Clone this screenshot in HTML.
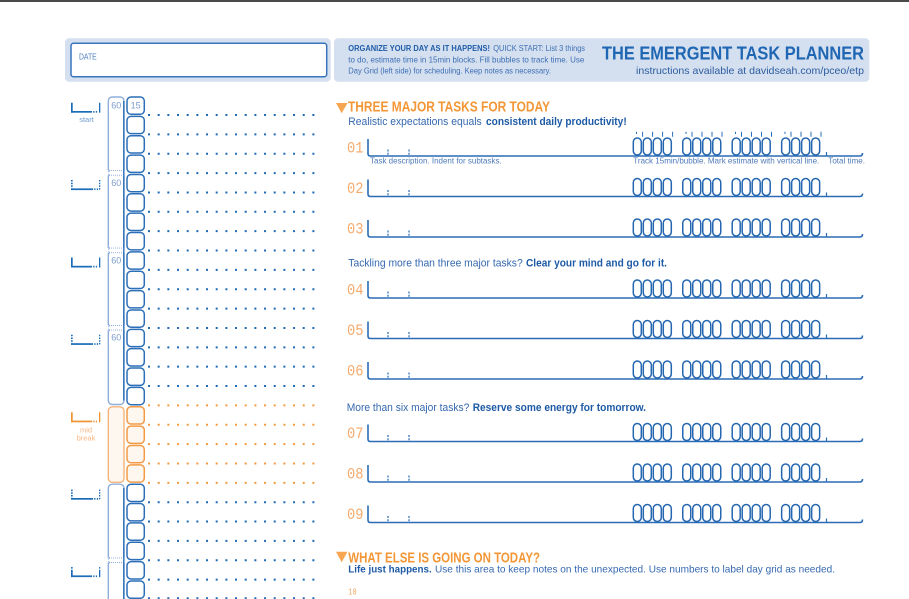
<!DOCTYPE html>
<html><head><meta charset="utf-8"><style>
html,body{margin:0;padding:0;background:#fff;width:909px;height:599px;overflow:hidden}
svg{display:block}
text{font-family:"Liberation Sans",sans-serif}
.mono{font-family:"Liberation Mono","DejaVu Sans Mono",monospace}
</style></head><body>
<svg width="909" height="599" viewBox="0 0 909 599" xmlns="http://www.w3.org/2000/svg">
<defs>
  <rect id="bb" x="127" y="0" width="17.3" height="17.3" rx="4"/>
  <g id="c4">
    <rect x="633.3" y="-18" width="8" height="17" rx="4"/>
    <rect x="643.3" y="-18" width="8" height="17" rx="4"/>
    <rect x="653.3" y="-18" width="8" height="17" rx="4"/>
    <rect x="663.3" y="-18" width="8" height="17" rx="4"/>
  </g>
  <g id="row">
    <path d="M368,-17 V-2.5 Q368,0 370.5,0 H860 Q862.5,0 862.5,-3" fill="none" stroke="#2a6cb6" stroke-width="1.6"/>
    <path d="M826.5,0 V-4" fill="none" stroke="#2a6cb6" stroke-width="1.2"/>
    <path d="M388,-6.5 V-1 M409,-6.5 V-1" fill="none" stroke="#2a6cb6" stroke-width="1.2" stroke-dasharray="2 1.2"/>
    <g fill="#fff" stroke="#2566b0" stroke-width="1.5">
      <use href="#c4"/>
      <use href="#c4" x="49.45"/>
      <use href="#c4" x="98.9"/>
      <use href="#c4" x="148.35"/>
    </g>
  </g>
</defs>

<!-- top bar -->
<rect x="0" y="0" width="909" height="2" fill="#4a4a4a"/>

<!-- header panels -->
<rect x="65" y="38.3" width="265.7" height="43.4" rx="4" fill="#d4dff0"/>
<rect x="71" y="43.3" width="255.7" height="33.4" rx="2.5" fill="#fff" stroke="#3a74bd" stroke-width="1.5"/>
<text x="79" y="59.3" font-size="8.5" fill="#4a7cc0" textLength="17.7" lengthAdjust="spacingAndGlyphs">DATE</text>
<rect x="334" y="38.3" width="535.3" height="43.4" rx="4" fill="#d4dff0"/>
<text x="348.3" y="51" font-size="8" font-weight="bold" fill="#1f5ca8" textLength="141.7" lengthAdjust="spacingAndGlyphs">ORGANIZE YOUR DAY AS IT HAPPENS!</text>
<text x="493.3" y="51" font-size="8" fill="#3d6fb3" textLength="91.7" lengthAdjust="spacingAndGlyphs">QUICK START: List 3 things</text>
<text x="348.3" y="62.3" font-size="8" fill="#3d6fb3" textLength="236" lengthAdjust="spacingAndGlyphs">to do, estimate time in 15min blocks. Fill bubbles to track time. Use</text>
<text x="348.3" y="73.5" font-size="8" fill="#3d6fb3" textLength="202.7" lengthAdjust="spacingAndGlyphs">Day Grid (left side) for scheduling. Keep notes as necessary.</text>
<text x="602" y="59.5" font-size="18.5" font-weight="bold" fill="#1f66b3" textLength="262" lengthAdjust="spacingAndGlyphs">THE EMERGENT TASK PLANNER</text>
<text x="636" y="74" font-size="10.5" fill="#2c5d9f" textLength="228" lengthAdjust="spacingAndGlyphs">instructions available at davidseah.com/pceo/etp</text>

<!-- LEFT COLUMN: hour column -->
<rect x="108.3" y="97" width="15.7" height="307.5" rx="4" fill="#fff" stroke="#8eaedb" stroke-width="1.4"/>
<rect x="108.3" y="406.8" width="15.7" height="75.5" rx="4" fill="#fef7ef" stroke="#f6b47a" stroke-width="1.4"/>
<rect x="108.3" y="484.2" width="15.7" height="130" rx="4" fill="#fff" stroke="#8eaedb" stroke-width="1.4"/>
<!-- separators -->
<g>
  <rect x="107" y="170.4" width="18" height="5" fill="#fff"/>
  <rect x="107" y="247.9" width="18" height="5" fill="#fff"/>
  <rect x="107" y="325.3" width="18" height="5" fill="#fff"/>
  <rect x="107" y="557.7" width="18" height="5" fill="#fff"/>
</g>
<g stroke="#8aaad6" stroke-width="0.9" stroke-dasharray="1 1" fill="none">
  <path d="M109,170.6H123 M109,175.2H123"/>
  <path d="M109,248.1H123 M109,252.7H123"/>
  <path d="M109,325.5H123 M109,330.1H123"/>
  <path d="M109,557.9H123 M109,562.5H123"/>
</g>
<g stroke="#8eaedb" stroke-width="1.2" fill="none">
  <path d="M108.3,169.5 q2,1.2 0,2.5 M108.3,174 q2,1.2 0,2.5"/>
  <path d="M108.3,247 q2,1.2 0,2.5 M108.3,251.5 q2,1.2 0,2.5"/>
  <path d="M108.3,324.4 q2,1.2 0,2.5 M108.3,328.9 q2,1.2 0,2.5"/>
  <path d="M108.3,556.8 q2,1.2 0,2.5 M108.3,561.3 q2,1.2 0,2.5"/>
</g>
<path d="M123.8,101 V400.5 M123.8,488 V599" stroke="#2a6db8" stroke-width="1.4" fill="none"/>
<g font-size="9" fill="#7c9ccd" text-anchor="middle">
  <text x="116.3" y="108.3">60</text>
  <text x="116.3" y="186">60</text>
  <text x="116.3" y="263.3">60</text>
  <text x="116.3" y="340.7">60</text>
</g>

<!-- 15-min bubbles -->
<g fill="#fff" stroke="#2c6fb9" stroke-width="1.5">
  <use href="#bb" y="97"/><use href="#bb" y="116.36"/><use href="#bb" y="135.72"/><use href="#bb" y="155.08"/>
  <use href="#bb" y="174.44"/><use href="#bb" y="193.8"/><use href="#bb" y="213.16"/><use href="#bb" y="232.52"/>
  <use href="#bb" y="251.88"/><use href="#bb" y="271.24"/><use href="#bb" y="290.6"/><use href="#bb" y="309.96"/>
  <use href="#bb" y="329.32"/><use href="#bb" y="348.68"/><use href="#bb" y="368.04"/><use href="#bb" y="387.4"/>
  <use href="#bb" y="484.2"/><use href="#bb" y="503.56"/><use href="#bb" y="522.92"/><use href="#bb" y="542.28"/>
  <use href="#bb" y="561.64"/><use href="#bb" y="581"/>
</g>
<g fill="#fef7ef" stroke="#f39a45" stroke-width="1.5">
  <use href="#bb" y="406.76"/><use href="#bb" y="426.12"/><use href="#bb" y="445.48"/><use href="#bb" y="464.84"/>
</g>
<text x="135.6" y="108.4" font-size="9" fill="#7c9ccd" text-anchor="middle">15</text>

<!-- dotted rows -->
<g stroke="#1f6ab5" stroke-width="2" stroke-dasharray="2 7.67">
  <line x1="148" y1="115" x2="316" y2="115"/>
  <line x1="148" y1="134.36" x2="316" y2="134.36"/>
  <line x1="148" y1="153.72" x2="316" y2="153.72"/>
  <line x1="148" y1="173.08" x2="316" y2="173.08"/>
  <line x1="148" y1="192.44" x2="316" y2="192.44"/>
  <line x1="148" y1="211.8" x2="316" y2="211.8"/>
  <line x1="148" y1="231.16" x2="316" y2="231.16"/>
  <line x1="148" y1="250.52" x2="316" y2="250.52"/>
  <line x1="148" y1="269.88" x2="316" y2="269.88"/>
  <line x1="148" y1="289.24" x2="316" y2="289.24"/>
  <line x1="148" y1="308.6" x2="316" y2="308.6"/>
  <line x1="148" y1="327.96" x2="316" y2="327.96"/>
  <line x1="148" y1="347.32" x2="316" y2="347.32"/>
  <line x1="148" y1="366.68" x2="316" y2="366.68"/>
  <line x1="148" y1="386.04" x2="316" y2="386.04"/>
  <line x1="148" y1="502.2" x2="316" y2="502.2"/>
  <line x1="148" y1="521.56" x2="316" y2="521.56"/>
  <line x1="148" y1="540.92" x2="316" y2="540.92"/>
  <line x1="148" y1="560.28" x2="316" y2="560.28"/>
  <line x1="148" y1="579.64" x2="316" y2="579.64"/>
  <line x1="148" y1="598.2" x2="316" y2="598.2"/>
</g>
<g stroke="#f29a3f" stroke-width="2" stroke-dasharray="2 7.67">
  <line x1="148" y1="405.4" x2="316" y2="405.4"/>
  <line x1="148" y1="424.76" x2="316" y2="424.76"/>
  <line x1="148" y1="444.12" x2="316" y2="444.12"/>
  <line x1="148" y1="463.48" x2="316" y2="463.48"/>
  <line x1="148" y1="482.84" x2="316" y2="482.84"/>
</g>

<!-- hour brackets -->
<g fill="#1a6bb8">
  <!-- k0 solid b=112.7 -->
  <rect x="71" y="102.7" width="1.7" height="10"/><rect x="71" y="111" width="21" height="1.7"/>
  <rect x="93.2" y="111" width="1.3" height="1.7"/><rect x="95.8" y="111" width="1.3" height="1.7"/>
  <rect x="99" y="102.7" width="1.3" height="10"/>
  <!-- k2 solid b=267.5 -->
  <rect x="71" y="257.5" width="1.7" height="10"/><rect x="71" y="265.8" width="21" height="1.7"/>
  <rect x="93.2" y="265.8" width="1.3" height="1.7"/><rect x="95.8" y="265.8" width="1.3" height="1.7"/>
  <rect x="99" y="257.5" width="1.3" height="10"/>
  <!-- k6 solid-ish b=577.1 -->
  <rect x="71" y="567.1" width="1.7" height="1.5"/><rect x="71" y="569.8" width="1.7" height="7.3"/><rect x="71" y="575.4" width="21" height="1.7"/>
  <rect x="93.2" y="575.4" width="1.3" height="1.7"/><rect x="95.8" y="575.4" width="1.3" height="1.7"/>
  <rect x="99" y="567.1" width="1.3" height="1.5"/><rect x="99" y="569.8" width="1.3" height="7.3"/>
  <!-- dotted k1 b=190.1 -->
  <rect x="71" y="188.4" width="22" height="1.7"/>
  <rect x="94.2" y="188.4" width="1.3" height="1.7"/><rect x="96.8" y="188.4" width="1.3" height="1.7"/>
  <!-- k3 b=344.9 -->
  <rect x="71" y="343.2" width="22" height="1.7"/>
  <rect x="94.2" y="343.2" width="1.3" height="1.7"/><rect x="96.8" y="343.2" width="1.3" height="1.7"/>
  <!-- k5 b=499.7 -->
  <rect x="71" y="498" width="22" height="1.7"/>
  <rect x="94.2" y="498" width="1.3" height="1.7"/><rect x="96.8" y="498" width="1.3" height="1.7"/>
</g>
<g stroke="#1a6bb8" fill="none" stroke-dasharray="1.5 1.2">
  <path d="M71.85,180 V188.4" stroke-width="1.7"/><path d="M99.65,180 V190" stroke-width="1.3"/>
  <path d="M71.85,334.8 V343.2" stroke-width="1.7"/><path d="M99.65,334.8 V344.8" stroke-width="1.3"/>
  <path d="M71.85,489.6 V498" stroke-width="1.7"/><path d="M99.65,489.6 V499.6" stroke-width="1.3"/>
</g>
<g fill="#f0922e">
  <rect x="71" y="412.3" width="1.7" height="10"/><rect x="71" y="420.6" width="21" height="1.7"/>
  <rect x="93.2" y="420.6" width="1.3" height="1.7"/><rect x="95.8" y="420.6" width="1.3" height="1.7"/>
  <rect x="99" y="412.3" width="1.3" height="10"/>
</g>
<text x="86.5" y="122" font-size="7.5" fill="#6f9ad0" text-anchor="middle">start</text>
<text x="86" y="432.7" font-size="7.5" fill="#f7b684" text-anchor="middle">mid</text>
<text x="86" y="440.5" font-size="7.5" fill="#f7b684" text-anchor="middle">break</text>

<!-- RIGHT: headings -->
<polygon points="336,103 347.5,103 341.7,113.3" fill="#f7a550"/>
<text x="348" y="111.7" font-size="14.5" font-weight="bold" fill="#f39636" textLength="202" lengthAdjust="spacingAndGlyphs">THREE MAJOR TASKS FOR TODAY</text>
<text x="348.3" y="125" font-size="11" fill="#3568b0" textLength="133.4" lengthAdjust="spacingAndGlyphs">Realistic expectations equals</text>
<text x="486" y="125" font-size="11" font-weight="bold" fill="#1d5aa6" textLength="140.7" lengthAdjust="spacingAndGlyphs">consistent daily productivity!</text>

<text x="348.3" y="266.7" font-size="11" fill="#3568b0" textLength="174.4" lengthAdjust="spacingAndGlyphs">Tackling more than three major tasks?</text>
<text x="526" y="266.7" font-size="11" font-weight="bold" fill="#1d5aa6" textLength="141" lengthAdjust="spacingAndGlyphs">Clear your mind and go for it.</text>

<text x="346.7" y="411" font-size="11" fill="#3568b0" textLength="122.6" lengthAdjust="spacingAndGlyphs">More than six major tasks?</text>
<text x="472.7" y="411" font-size="11" font-weight="bold" fill="#1d5aa6" textLength="173.3" lengthAdjust="spacingAndGlyphs">Reserve some energy for tomorrow.</text>

<!-- task rows -->
<use href="#row" y="156"/>
<use href="#row" y="196.5"/>
<use href="#row" y="237"/>
<use href="#row" y="298"/>
<use href="#row" y="338.5"/>
<use href="#row" y="379"/>
<use href="#row" y="441.5"/>
<use href="#row" y="482"/>
<use href="#row" y="522.5"/>

<!-- row 01 estimate ticks -->
<g stroke="#2c6fb9" stroke-width="1" fill="none">
  <path d="M642.6,131.7V136.7 M652.6,131.7V136.7 M662.6,131.7V136.7 M672.6,131.7V136.7 M636.5,131.7V134"/>
  <path d="M692,131.7V136.7 M702,131.7V136.7 M712,131.7V136.7 M722,131.7V136.7 M686,131.7V134"/>
  <path d="M741.5,131.7V136.7 M751.5,131.7V136.7 M761.5,131.7V136.7 M771.5,131.7V136.7 M735.5,131.7V134"/>
  <path d="M791,131.7V136.7 M801,131.7V136.7 M811,131.7V136.7 M821,131.7V136.7 M785,131.7V134"/>
</g>

<g class="mono" font-size="16" fill="#f6aa6c">
  <text class="mono" x="347" y="152.4" textLength="16.5" lengthAdjust="spacingAndGlyphs">01</text>
  <text class="mono" x="347" y="192.9" textLength="16.5" lengthAdjust="spacingAndGlyphs">02</text>
  <text class="mono" x="347" y="233.4" textLength="16.5" lengthAdjust="spacingAndGlyphs">03</text>
  <text class="mono" x="347" y="294.4" textLength="16.5" lengthAdjust="spacingAndGlyphs">04</text>
  <text class="mono" x="347" y="334.9" textLength="16.5" lengthAdjust="spacingAndGlyphs">05</text>
  <text class="mono" x="347" y="375.4" textLength="16.5" lengthAdjust="spacingAndGlyphs">06</text>
  <text class="mono" x="347" y="437.9" textLength="16.5" lengthAdjust="spacingAndGlyphs">07</text>
  <text class="mono" x="347" y="478.4" textLength="16.5" lengthAdjust="spacingAndGlyphs">08</text>
  <text class="mono" x="347" y="518.9" textLength="16.5" lengthAdjust="spacingAndGlyphs">09</text>
</g>

<text x="370" y="163.5" font-size="8" fill="#4f7ab8" textLength="131.7" lengthAdjust="spacingAndGlyphs">Task description. Indent for subtasks.</text>
<text x="633.3" y="163.5" font-size="8" fill="#4f7ab8" textLength="186" lengthAdjust="spacingAndGlyphs">Track 15min/bubble. Mark estimate with vertical line.</text>
<text x="828.3" y="163.5" font-size="8" fill="#4f7ab8" textLength="36.7" lengthAdjust="spacingAndGlyphs">Total time.</text>

<!-- bottom section -->
<polygon points="336,551.7 347.5,551.7 341.7,562.3" fill="#f7a550"/>
<text x="348.3" y="562.3" font-size="14.5" font-weight="bold" fill="#f39636" textLength="191.7" lengthAdjust="spacingAndGlyphs">WHAT ELSE IS GOING ON TODAY?</text>
<text x="348.3" y="572.7" font-size="10.5" font-weight="bold" fill="#1d5aa6" textLength="83.4" lengthAdjust="spacingAndGlyphs">Life just happens.</text>
<text x="435" y="572.7" font-size="10.5" fill="#3568b0" textLength="400" lengthAdjust="spacingAndGlyphs">Use this area to keep notes on the unexpected. Use numbers to label day grid as needed.</text>
<text class="mono" x="348.3" y="594.3" font-size="9" fill="#f5a863" textLength="8.4" lengthAdjust="spacingAndGlyphs">10</text>
</svg>
</body></html>
